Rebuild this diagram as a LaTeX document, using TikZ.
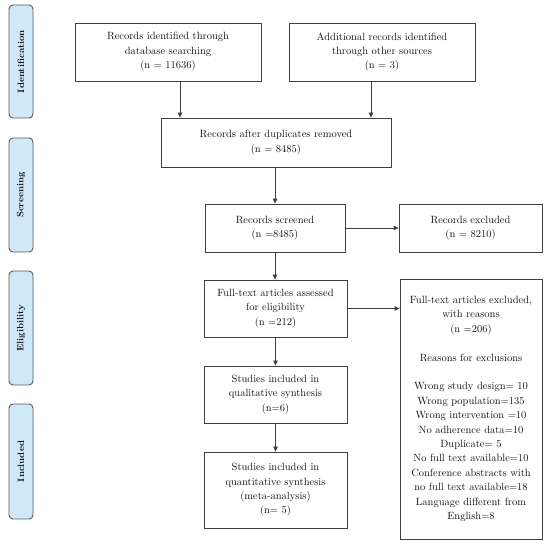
\documentclass[tikz,border=0pt]{standalone}
\usetikzlibrary{arrows.meta,positioning}
\definecolor{phasefill}{HTML}{CFE9F9}
\definecolor{phaseline}{HTML}{5A5A5A}
\definecolor{boxline}{HTML}{404040}
\definecolor{txt}{HTML}{141414}
\begin{document}
\begin{tikzpicture}[x=1pt,y=-1pt,
  every node/.style={text=txt},
  flowbox/.style={draw=boxline,line width=0.8pt,fill=white,align=center,inner sep=2pt,
    font=\fontsize{10.5}{14.4}\selectfont},
  phasebox/.style={draw=phaseline,line width=0.9pt,fill=phasefill,rounded corners=4pt,
    minimum width=24pt,inner sep=0pt},
  phasetext/.style={rotate=90,font=\fontsize{9.2}{11}\selectfont\bfseries},
  arr/.style={draw=boxline,line width=0.8pt,-{Triangle[width=4.5pt,length=5pt]}}]
\useasboundingbox (0,0) rectangle (550,548);
% phase labels
\node[phasebox,minimum height=113pt] (pI) at (21,61.5) {};
\node[phasetext] (tI) at (pI.center) {Identification};
\node[phasebox,minimum height=114pt] (pS) at (21,195) {};
\node[phasetext] (tS) at (pS.center) {Screening};
\node[phasebox,minimum height=114pt] (pE) at (21,328) {};
\node[phasetext] (tE) at (pE.center) {Eligibility};
\node[phasebox,minimum height=115pt] (pN) at (21,461.5) {};
\node[phasetext] (tN) at (pN.center) {Included};
% boxes
\node[flowbox,minimum width=186pt,minimum height=58pt] (b1) at (168,52)
  {Records identified through\\database searching\\(n = 11636)};
\node[flowbox,minimum width=186pt,minimum height=58pt] (b2) at (382,52)
  {Additional records identified\\through other sources\\(n = 3)};
\node[flowbox,minimum width=230pt,minimum height=49pt] (b3) at (276,142.5)
  {Records after duplicates removed\\(n = 8485)};
\node[flowbox,minimum width=140pt,minimum height=48pt] (b4) at (275,228)
  {Records screened\\(n =8485)};
\node[flowbox,minimum width=143pt,minimum height=48pt] (b5) at (470.5,228)
  {Records excluded\\(n = 8210)};
\node[flowbox,minimum width=143pt,minimum height=57pt] (b6) at (275.5,308.5)
  {Full-text articles assessed\\for eligibility\\(n =212)};
\node[flowbox,minimum width=142pt,minimum height=260pt] (b7) at (471,409)
  {Full-text articles excluded,\\with reasons\\(n =206)\\[14.4pt]Reasons for exclusions\\[14.4pt]
   Wrong study design= 10\\Wrong population=135\\Wrong intervention =10\\No adherence data=10\\
   Duplicate= 5\\No full text available=10\\Conference abstracts with\\no full text available=18\\
   Language different from\\English=8};
\node[flowbox,minimum width=143pt,minimum height=57pt] (b8) at (275.5,394.5)
  {Studies included in\\qualitative synthesis\\(n=6)};
\node[flowbox,minimum width=143pt,minimum height=76pt] (b9) at (275.5,490)
  {Studies included in\\quantitative synthesis\\(meta-analysis)\\(n= 5)};
% connectors
\draw[arr] ([xshift=12pt]b1.south) -- ([xshift=12pt]b1.south |- b3.north);
\draw[arr] ([xshift=-11pt]b2.south) -- ([xshift=-11pt]b2.south |- b3.north);
\draw[arr] (b3.south -| b4.north) -- (b4.north);
\draw[arr] (b4.east) -- (b5.west);
\draw[arr] (b4.south) -- (b4.south |- b6.north);
\draw[arr] (b6.east) -- (b6.east -| b7.west);
\draw[arr] (b6.south) -- (b8.north);
\draw[arr] (b8.south) -- (b9.north);
\end{tikzpicture}
\end{document}
